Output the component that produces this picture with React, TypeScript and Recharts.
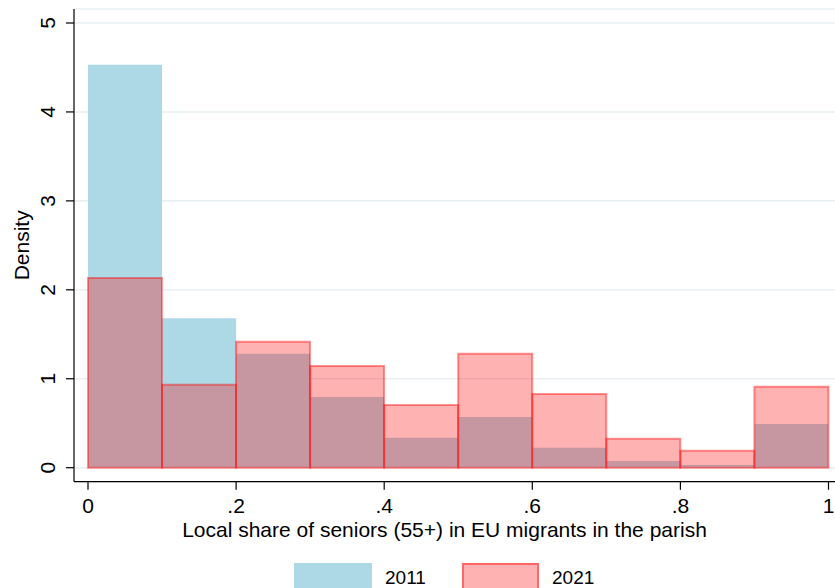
import React from 'react';
import { BarChart, Bar, XAxis, YAxis, CartesianGrid, Legend } from 'recharts';

const binLabels = ['0-.1', '.1-.2', '.2-.3', '.3-.4', '.4-.5', '.5-.6', '.6-.7', '.7-.8', '.8-.9', '.9-1'];
const binMids = [0.05, 0.15, 0.25, 0.35, 0.45, 0.55, 0.65, 0.75, 0.85, 0.95];
const density2011 = [4.53, 1.68, 1.28, 0.795, 0.337, 0.57, 0.225, 0.075, 0.03, 0.49];
const density2021 = [2.134, 0.934, 1.417, 1.144, 0.705, 1.28, 0.83, 0.326, 0.19, 0.91];
const xTicks = [0, 0.2, 0.4, 0.6, 0.8, 1];
const yTicks = [0, 1, 2, 3, 4, 5];
const seriesNames = ['2011', '2021'];

const data = binLabels.map((bin, i) => ({ bin, mid: binMids[i], y2011: density2011[i], y2021: density2021[i] }));

const FONT = '"Liberation Sans", Arial, Helvetica, sans-serif';
const BLUE = '#ADD8E6';
const RED_FILL = 'rgba(255,15,15,0.32)';
const RED_STROKE = 'rgba(255,0,0,0.42)';

const fmtX = (v: number) => (v === 0 ? '0' : v === 1 ? '1' : String(v).replace(/^0/, ''));

const XTick = (props: any) => {
  const { x, y, payload } = props;
  return (
    <text x={x} y={y + 21.6} textAnchor="middle" fontSize={21} fontFamily={FONT} fill="#000">
      {fmtX(payload.value)}
    </text>
  );
};

const YTick = (props: any) => {
  const { x, y, payload } = props;
  const bx = x - 9;
  return (
    <text x={bx} y={y} textAnchor="middle" fontSize={21} fontFamily={FONT} fill="#000" transform={`rotate(-90 ${bx} ${y})`}>
      {payload.value}
    </text>
  );
};

const XLabel = (props: any) => {
  const vb = props.viewBox || {};
  const cx = vb.x + vb.width / 2 - 10;
  const by = vb.y + 55;
  return (
    <text x={cx} y={by} textAnchor="middle" fontSize={21} fontFamily={FONT} fill="#000">
      Local share of seniors (55+) in EU migrants in the parish
    </text>
  );
};

const YLabel = (props: any) => {
  const vb = props.viewBox || {};
  const cy = vb.y + vb.height / 2;
  const bx = 29;
  return (
    <text x={bx} y={cy} textAnchor="middle" fontSize={21} fontFamily={FONT} fill="#000" transform={`rotate(-90 ${bx} ${cy})`}>
      Density
    </text>
  );
};

const LegendContent = () => (
  <div style={{ position: 'relative', width: 835, height: 25, overflow: 'hidden', fontFamily: FONT }}>
    <div style={{ position: 'absolute', left: 294, top: 0, width: 78, height: 32, background: BLUE }} />
    <div style={{ position: 'absolute', left: 385, top: 4, fontSize: 19, lineHeight: '22px', color: '#000' }}>{seriesNames[0]}</div>
    <div style={{ position: 'absolute', left: 462, top: 0, width: 73, height: 28, background: RED_FILL, border: `2px solid ${RED_STROKE}` }} />
    <div style={{ position: 'absolute', left: 552, top: 4, fontSize: 19, lineHeight: '22px', color: '#000' }}>{seriesNames[1]}</div>
  </div>
);

export default function App() {
  return (
    <div style={{ position: 'absolute', left: 0, top: 0, width: 835, height: 588, overflow: 'hidden', background: '#fff' }}>
      <BarChart
        width={835}
        height={588}
        data={data}
        margin={{ top: 9, right: 0, left: 0, bottom: 0 }}
        barCategoryGap={0}
        barGap="-100%"
      >
        <CartesianGrid vertical={false} stroke="#E8F0F3" strokeWidth={1.6} />
        <XAxis xAxisId="cat" dataKey="bin" type="category" hide padding={{ left: 14, right: 6.5 }} />
        <XAxis
          xAxisId={0}
          dataKey="mid"
          type="number"
          domain={[0, 1]}
          ticks={xTicks}
          interval={0}
          allowDataOverflow
          padding={{ left: 14, right: 6.5 }}
          height={81.3}
          tickSize={8}
          tick={<XTick />}
          axisLine={{ stroke: '#000', strokeWidth: 1.2 }}
          tickLine={{ stroke: '#000', strokeWidth: 1.2 }}
          label={<XLabel />}
        />
        <YAxis
          type="number"
          domain={[0, 5]}
          ticks={yTicks}
          width={74}
          padding={{ top: 14, bottom: 14 }}
          tickSize={8}
          tick={<YTick />}
          axisLine={{ stroke: '#000', strokeWidth: 1.2 }}
          tickLine={{ stroke: '#000', strokeWidth: 1.2 }}
          label={<YLabel />}
        />
        <Legend verticalAlign="bottom" height={25} content={<LegendContent />} wrapperStyle={{ height: 25, overflow: 'hidden' }} />
        <Bar xAxisId="cat" dataKey="y2011" name={seriesNames[0]} fill={BLUE} isAnimationActive={false} />
        <Bar xAxisId="cat" dataKey="y2021" name={seriesNames[1]} fill={RED_FILL} stroke={RED_STROKE} strokeWidth={2} isAnimationActive={false} />
      </BarChart>
    </div>
  );
}
